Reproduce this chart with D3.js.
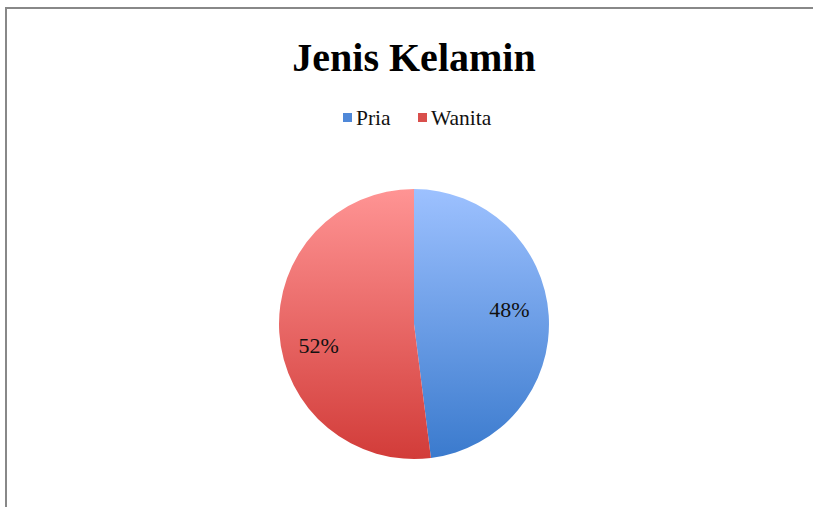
<!DOCTYPE html>
<html><head><meta charset="utf-8">
<script src="https://cdn.jsdelivr.net/npm/d3@7"></script>
<style>body{margin:0;background:#fff;} svg{display:block;}</style>
</head><body>
<svg id="chart" width="813" height="507"></svg>
<script>
const categories = ["Pria", "Wanita"];
const values = [48, 52];
const labels = ["48%", "52%"];
const title = "Jenis Kelamin";

const svg = d3.select("#chart");
const W = 813, H = 507;
const FONT = "Liberation Serif, DejaVu Serif, serif";
svg.append("rect").attr("width", W).attr("height", H).attr("fill", "#fff");
// frame
svg.append("path").attr("d", "M6,507 L6,8 L813,8").attr("fill", "none").attr("stroke", "#888").attr("stroke-width", 2);

const cx = 414, cy = 324, r = 135;
const defs = svg.append("defs");
const grads = [["#9dc1ff", "#3a7acd"], ["#ff9494", "#d23c39"]];
grads.forEach((g, i) => {
  const lg = defs.append("linearGradient").attr("id", "g" + i)
    .attr("gradientUnits", "userSpaceOnUse")
    .attr("x1", 0).attr("y1", -r).attr("x2", 0).attr("y2", r);
  lg.append("stop").attr("offset", "0%").attr("stop-color", g[0]);
  lg.append("stop").attr("offset", "100%").attr("stop-color", g[1]);
});
const color = d3.scaleOrdinal().domain(categories).range(["url(#g0)", "url(#g1)"]);
const legendColor = d3.scaleOrdinal().domain(categories).range(["#4f88d8", "#d94f4c"]);

svg.append("text").attr("x", 414).attr("y", 71).attr("text-anchor", "middle")
  .attr("font-family", FONT).attr("font-weight", "bold")
  .attr("font-size", 40).attr("fill", "#000").text(title);

const pie = d3.pie().sort(null).value(d => d.v);
const data = pie(categories.map((c, i) => ({c, v: values[i], l: labels[i]})));
const arc = d3.arc().innerRadius(0).outerRadius(r);
const g = svg.append("g").attr("transform", `translate(${cx},${cy})`);
g.selectAll("path").data(data).join("path")
  .attr("d", arc).attr("fill", d => color(d.data.c));
// labels
const lr = 97, rot = -7 * Math.PI / 180;
data.forEach(d => {
  const a = (d.startAngle + d.endAngle) / 2 + rot;
  const x = lr * Math.sin(a), y = -lr * Math.cos(a);
  g.append("text").attr("x", x).attr("y", y + 11).attr("text-anchor", "middle")
    .attr("font-family", FONT).attr("font-size", 22)
    .attr("fill", "#111").text(d.data.l);
});
// legend
const legendX = [343, 418];
categories.forEach((c, i) => {
  svg.append("rect").attr("x", legendX[i]).attr("y", 113).attr("width", 9).attr("height", 9)
    .attr("fill", legendColor(c));
  svg.append("text").attr("x", legendX[i] + 13).attr("y", 125)
    .attr("font-family", FONT).attr("font-size", 21.5)
    .attr("fill", "#111").text(c);
});
</script>
</body></html>
